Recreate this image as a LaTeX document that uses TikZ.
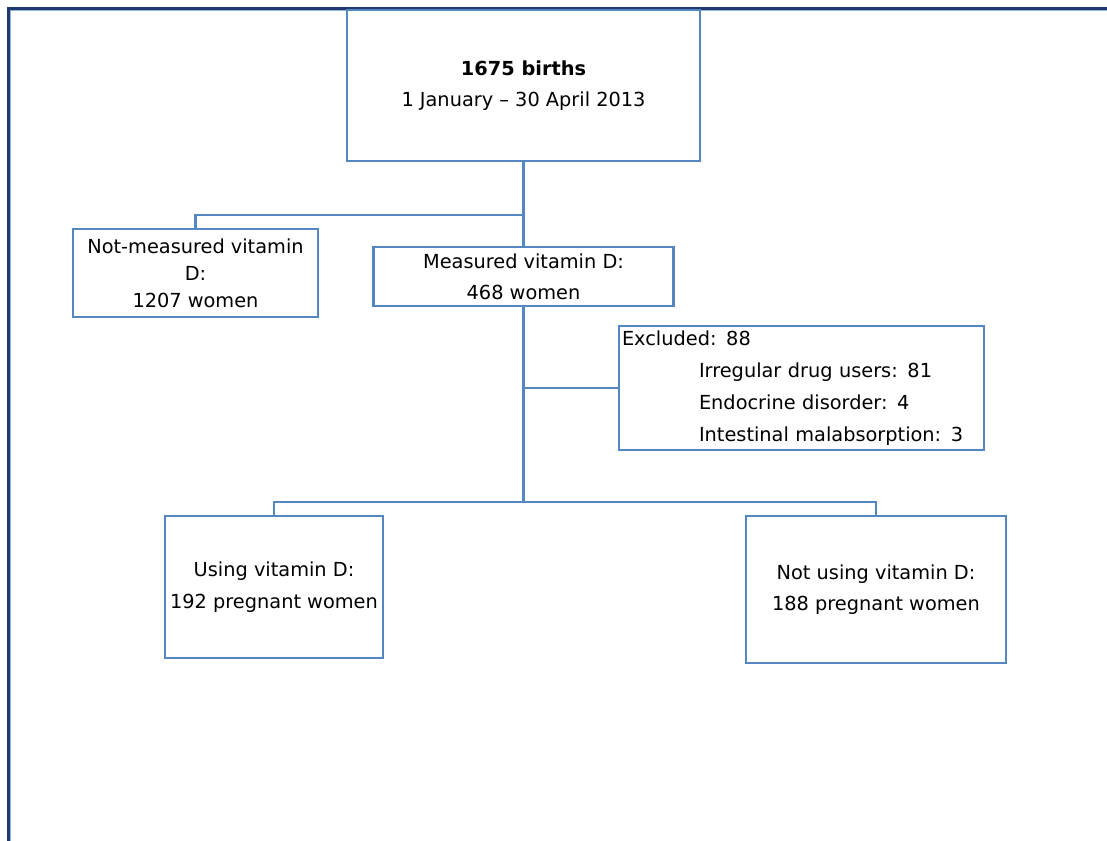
\documentclass[tikz,border=0pt]{standalone}
\usepackage{fontspec}
\setmainfont{DejaVu Sans}
\definecolor{boxblue}{RGB}{84,134,192}
\definecolor{navy}{RGB}{31,56,110}
\definecolor{lightframe}{RGB}{142,180,227}
\begin{document}
\begin{tikzpicture}[x=0.75pt,y=-0.75pt,
  box/.style={draw=boxblue,line width=1.6pt,fill=white,inner sep=2.25pt,align=center,
    font=\fontsize{14.5}{23.5}\selectfont},
  conn/.style={draw=boxblue,line width=1.6pt}]
\useasboundingbox (0,0) rectangle (1107,841);
% outer frame
\draw[navy,line width=1.9pt] (8.5,841) -- (8.5,8.5) -- (1107,8.5);
\draw[lightframe,line width=0.6pt] (10.5,841) -- (10.5,10.5) -- (1107,10.5);
% boxes
\node[box,minimum width=264.75pt,minimum height=113.25pt] (top) at (523.5,85.5)
  {{\bfseries 1675 births}\\1 January – 30 April 2013};
\node[box,minimum width=183.75pt,minimum height=66pt,font=\fontsize{14.5}{20.3}\selectfont] (nm) at (195.5,273)
  {Not-measured vitamin\\D:\\1207 women};
\node[box,minimum width=225pt,minimum height=44.25pt] (meas) at (523.5,276.5)
  {Measured vitamin D:\\468 women};
\node[box,minimum width=273.75pt,minimum height=93pt,text width=269.25pt,align=left,
  font=\fontsize{14.5}{24}\selectfont] (exc) at (801.5,388)
  {Excluded: 88\\\hspace*{57.75pt}Irregular drug users: 81\\\hspace*{57.75pt}Endocrine disorder: 4\\\hspace*{57.75pt}Intestinal malabsorption: 3};
\node[box,minimum width=163.5pt,minimum height=106.5pt] (use) at (274,587)
  {Using vitamin D:\\192 pregnant women};
\node[box,minimum width=195pt,minimum height=110.25pt] (nuse) at (876,589.5)
  {Not using vitamin D:\\188 pregnant women};
% junction coordinates
\coordinate (j1) at (523.5,215);
\coordinate (j3) at (523.5,502);
% connectors
\draw[conn] (top.south) -- (meas.north);
\draw[conn] (j1) -| (nm.north);
\draw[conn] (meas.south) -- (j3);
\draw[conn] (meas.south |- exc.west) -- (exc.west);
\draw[conn] (j3) -| (use.north);
\draw[conn] (j3) -| (nuse.north);
\end{tikzpicture}
\end{document}
